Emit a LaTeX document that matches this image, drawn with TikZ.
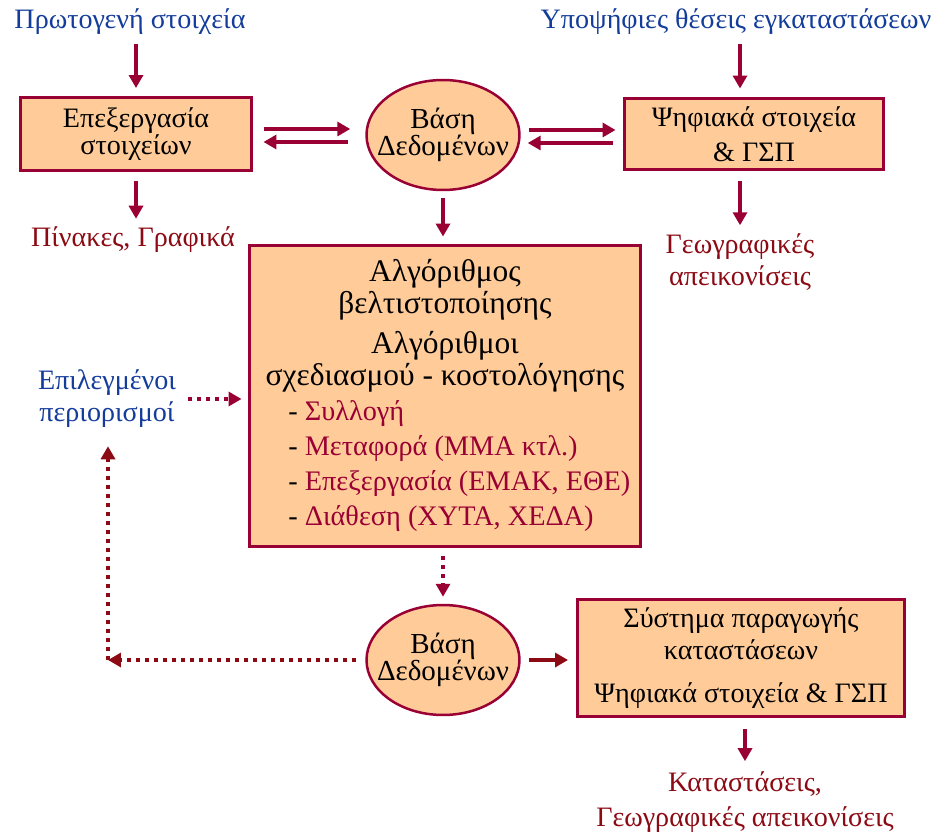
\documentclass[tikz,border=0pt]{standalone}
\usepackage{fontspec}
\setmainfont{Liberation Serif}
\usetikzlibrary{arrows.meta,shapes.geometric}
\definecolor{peach}{HTML}{FFCC99}
\definecolor{wine}{HTML}{990033}
\definecolor{maroon}{HTML}{8C0A14}
\definecolor{navy}{HTML}{143C9A}
\def\txtfont{\fontsize{16}{15.4}\selectfont}
\def\lblfont{\fontsize{16}{18.2}\selectfont}
\def\bigfont{\fontsize{17.9}{18.2}\selectfont}
\def\listfont{\fontsize{16.1}{20}\selectfont}

\begin{document}
\begin{tikzpicture}[x=0.02cm,y=-0.02cm,
	box/.style={draw=wine, fill=peach, line width=0.06cm, inner sep=0pt, align=center, font=\txtfont},
	db/.style={ellipse, draw=wine, fill=peach, line width=0.05cm, minimum width=3.06cm, minimum height=2.2cm, inner xsep=-0.3cm, inner ysep=0pt, align=center, font=\fontsize{16.5}{15.4}\selectfont},
	lbl/.style={inner sep=0pt, align=center, font=\lblfont},
	flow/.style={wine, line width=0.08cm, -{Triangle[length=0.26cm,width=0.28cm]}},
	dotflow/.style={flow, dash pattern=on 0.08cm off 0.1cm}]
			%%%%% START %%%%%
			\def\up{0.1cm}
			\def\dn{-0.16cm}
			\useasboundingbox (0,0) rectangle (939,837);

			% inputs and first row
			\node[lbl, text=navy] (raw) at (130,22) {Πρωτογενή στοιχεία};
			\node[lbl, text=navy] (sites) at (736,22) {Υποψήφιες θέσεις εγκαταστάσεων};
			\node[box, minimum width=4.64cm, minimum height=1.46cm] (proc) at (136,134) {Επεξεργασία\\στοιχείων};
			\node[db] (db1) at (443,135) {Βάση\\Δεδομένων};
			\node[box, minimum width=5.2cm, minimum height=1.44cm, font=\fontsize{16}{19.9}\selectfont] (gis) at (754,134) {Ψηφιακά στοιχεία\\\& ΓΣΠ};
			\node[lbl, text=maroon] (tables) at (133,240) {Πίνακες, Γραφικά};
			\node[lbl, text=maroon] (maps) at (740,262) {Γεωγραφικές\\απεικονίσεις};

			% main block
			\node[box, minimum width=7.84cm, minimum height=6.04cm] (algo) at (445,396) {};
			\node[lbl, font=\bigfont] (algohead) at (445,326) {Αλγόριθμος\\βελτιστοποίησης\\[0.16cm]Αλγόριθμοι\\σχεδιασμού - κοστολόγησης};
			\node[lbl, font=\listfont, align=left, anchor=west] (algolist) at (288,466) {- \textcolor{wine}{Συλλογή}\\
				- \textcolor{wine}{Μεταφορά (ΜΜΑ κτλ.)}\\
				- \textcolor{wine}{Επεξεργασία (ΕΜΑΚ, ΕΘΕ)}\\
				- \textcolor{wine}{Διάθεση (ΧΥΤΑ, ΧΕΔΑ)}};
			\node[lbl, text=navy] (cons) at (107,399) {Επιλεγμένοι\\περιορισμοί};

			% output row
			\node[db] (db2) at (443,660) {Βάση\\Δεδομένων};
			\node[box, minimum width=6.54cm, minimum height=2.34cm, font=\fontsize{16}{18.2}\selectfont] (rep) at (741,658) {Σύστημα παραγωγής\\καταστάσεων\\[0.22cm]Ψηφιακά στοιχεία \& ΓΣΠ};
			\node[lbl, text=maroon, font=\fontsize{16}{20}\selectfont] (out) at (745,802) {Καταστάσεις,\\Γεωγραφικές απεικονίσεις};
			\coordinate (corner) at (108,660);

			% arrows
			\draw[flow, shorten <=0.18cm, shorten >=0.16cm] (proc.north |- raw.south) -- (proc.north);
			\draw[flow, shorten <=0.18cm, shorten >=0.16cm] (proc.south) -- (proc.south |- tables.north);
			\draw[flow, shorten <=0.22cm, shorten >=0.3cm] ([yshift=\up]proc.east) -- ([yshift=\up]proc.east -| db1.west);
			\draw[flow, shorten <=0.34cm, shorten >=0.2cm] ([yshift=\dn]proc.east -| db1.west) -- ([yshift=\dn]proc.east);
			\draw[flow, shorten <=0.16cm, shorten >=0.14cm] ([yshift=\up]db1.east) -- ([yshift=\up]db1.east -| gis.west);
			\draw[flow, shorten <=0.2cm, shorten >=0.14cm] ([yshift=\dn]db1.east -| gis.west) -- ([yshift=\dn]db1.east);
			\draw[flow, shorten <=0.18cm, shorten >=0.16cm] (maps.north |- sites.south) -- (maps.north |- gis.north);
			\draw[flow, shorten <=0.2cm, shorten >=0.16cm] (maps.north |- gis.south) -- (maps.north);
			\draw[flow, shorten <=0.14cm, shorten >=0.14cm] (db1.south) -- (db1.south |- algo.north);
			\draw[dotflow, shorten <=0.24cm, shorten >=0.12cm] (cons.east) -- (cons.east -| algo.west);
			\draw[dotflow, shorten <=0.16cm, shorten >=0.14cm] (algo.south -| db2.north) -- (db2.north);
			\draw[dotflow, maroon, shorten <=0.18cm] (db2.west) -- (corner);
			\draw[dotflow, maroon, shorten >=0.36cm] (corner) -- (corner |- cons.south);
			\draw[flow, maroon, shorten <=0.16cm, shorten >=0.16cm] (db2.east) -- (db2.east -| rep.west);
			\draw[flow, shorten <=0.22cm, shorten >=0.2cm] (rep.south -| out.north) -- (out.north);
			%%%%% END %%%%%
\end{tikzpicture}
\end{document}
